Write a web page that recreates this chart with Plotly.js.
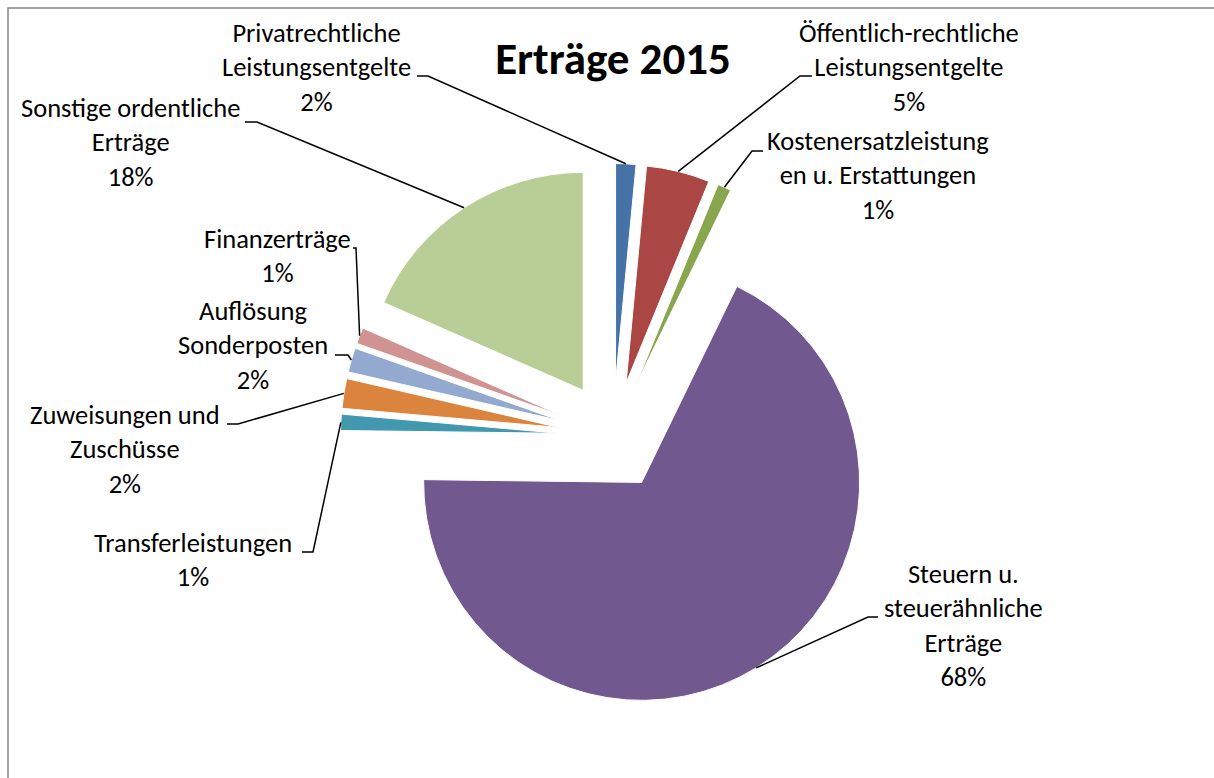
<!DOCTYPE html>
<html><head><meta charset="utf-8">
<script src="https://cdn.plot.ly/plotly-3.0.1.min.js"></script>
<style>html,body{margin:0;padding:0;background:#fff}#chart{width:1214px;height:778px}</style>
</head><body><div id="chart"></div>
<script>
// ---- data ----
const categories = [
  "Privatrechtliche Leistungsentgelte",
  "Öffentlich-rechtliche Leistungsentgelte",
  "Kostenersatzleistungen u. Erstattungen",
  "Steuern u. steuerähnliche Erträge",
  "Transferleistungen",
  "Zuweisungen und Zuschüsse",
  "Auflösung Sonderposten",
  "Finanzerträge",
  "Sonstige ordentliche Erträge"
];
const shares = [1.5, 4.7, 1.0, 68.0, 1.2, 2.2, 1.8, 1.2, 18.4];
const labelLines = [
  ["Privatrechtliche", "Leistungsentgelte"],
  ["Öffentlich-rechtliche", "Leistungsentgelte"],
  ["Kostenersatzleistung", "en u. Erstattungen"],
  ["Steuern u.", "steuerähnliche", "Erträge"],
  ["Transferleistungen"],
  ["Zuweisungen und", "Zuschüsse"],
  ["Auflösung", "Sonderposten"],
  ["Finanzerträge"],
  ["Sonstige ordentliche", "Erträge"]
];
const titleText = "Erträge 2015";

// ---- styles / layout geometry ----
const colors = ["#4572A7", "#AA4643", "#89A54E", "#71588F", "#4198AF", "#DB843D", "#93A9CF", "#D19392", "#B9CD96"];
const W = 1214, H = 778;
const CX = 613, CY = 436, R = 218, PULL = 0.25;
// label block centres (px) and leader elbows (label end, elbow)
const labelPos = [[316, 68], [909, 68], [878, 175], [963, 625], [193, 560], [125, 449], [253, 345], [277, 256], [130, 142]];
const elbows = [
  [[417, 76], [428, 76]],
  [[812, 76], [800, 76]],
  [[763, 151], [752, 151]],
  [[878, 617], [868, 617]],
  [[302, 552], [313, 552]],
  [[227, 424], [238, 424]],
  [[335, 355], [348, 355]],
  [[353, 248], [356, 248]],
  [[245, 122], [257, 122]]
];

const px = x => x / W, py = y => 1 - y / H;
const total = shares.reduce((a, b) => a + b, 0);

const annotations = [];
const shapes = [];
let cum = 0;
shares.forEach((v, i) => {
  const mid = (cum + v / 2) / total * 2 * Math.PI; // clockwise from 12 o'clock
  cum += v;
  const dx = Math.sin(mid), dy = -Math.cos(mid);
  const ax = CX + dx * (PULL * R + R), ay = CY + dy * (PULL * R + R);
  const pct = Math.round(v / total * 100) + "%";
  annotations.push({
    xref: "paper", yref: "paper", x: px(labelPos[i][0]), y: py(labelPos[i][1]),
    xanchor: "center", yanchor: "middle", showarrow: false,
    text: labelLines[i].concat([pct]).join("<br>"),
    font: {family: "Carlito, Lato, sans-serif", size: 26.5, color: "#000"}
  });
  const e = elbows[i];
  shapes.push({
    type: "path", xref: "paper", yref: "paper",
    path: `M ${px(e[0][0])},${py(e[0][1])} L ${px(e[1][0])},${py(e[1][1])} L ${px(ax)},${py(ay)}`,
    line: {color: "#000", width: 1.5}
  });
});
shapes.push({type: "rect", xref: "paper", yref: "paper", x0: px(8), y0: py(8), x1: 1.05, y1: -0.05,
  line: {color: "#868686", width: 1.5}, fillcolor: "rgba(0,0,0,0)"});

const half = R * (1 + PULL);
const trace = {
  type: "pie", labels: categories, values: shares, sort: false, direction: "clockwise", rotation: 0,
  pull: shares.map(() => PULL), textinfo: "none", hoverinfo: "label+percent",
  marker: {colors: colors, line: {color: "#fff", width: 1}},
  domain: {x: [px(CX - half), px(CX + half)], y: [py(CY + half), py(CY - half)]},
  showlegend: false, automargin: false
};

const layout = {
  width: W, height: H, margin: {l: 0, r: 0, t: 0, b: 0},
  paper_bgcolor: "#fff", plot_bgcolor: "#fff",
  title: {text: "<b>" + titleText + "</b>", font: {family: "Carlito, Lato, sans-serif", size: 45, color: "#000"},
    x: px(613), xanchor: "center", xref: "paper", y: py(58), yanchor: "middle", yref: "container"},
  annotations: annotations, shapes: shapes, showlegend: false
};
Plotly.newPlot("chart", [trace], layout, {displayModeBar: false, staticPlot: true});
</script>
</body></html>
